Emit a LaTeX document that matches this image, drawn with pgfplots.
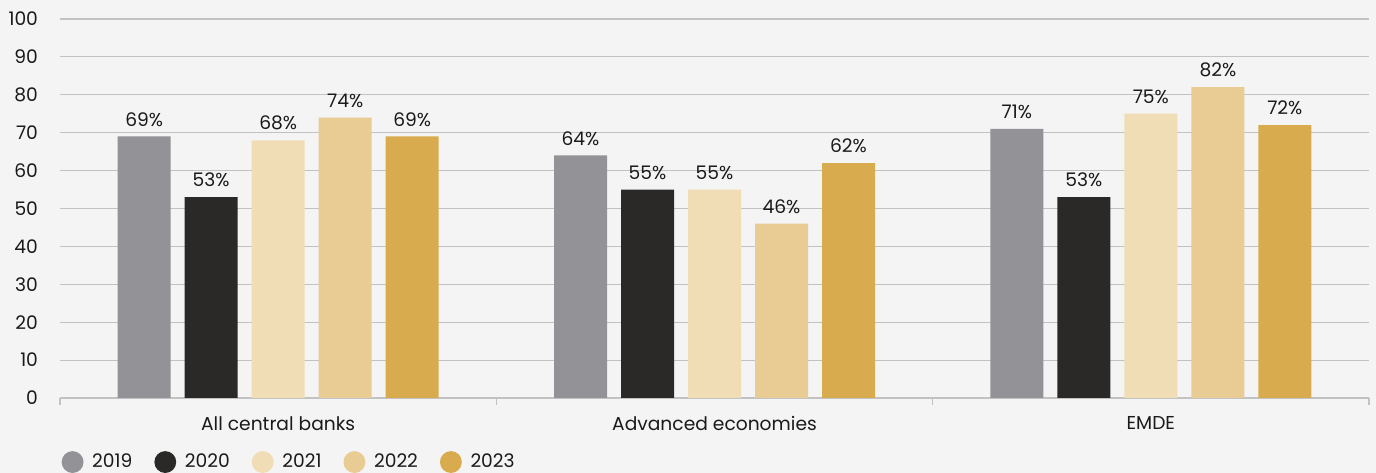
\documentclass[border=0pt]{standalone}
\usepackage{fontspec}
\setmainfont{Poppins}
\usepackage{pgfplots}
\pgfplotsset{compat=1.18}
\definecolor{bg}{HTML}{F4F4F4}
\definecolor{gridc}{HTML}{C2C2C2}
\definecolor{cA}{HTML}{939296}
\definecolor{cB}{HTML}{2A2928}
\definecolor{cC}{HTML}{F0DDB6}
\definecolor{cD}{HTML}{E8CC94}
\definecolor{cE}{HTML}{D8AC4E}
\definecolor{txt}{HTML}{1A1A1A}
\begin{document}
\begin{tikzpicture}[font=\fontsize{14}{16}\selectfont]
\useasboundingbox (-45pt,-56.25pt) rectangle (987pt,298.5pt);
\fill[bg] (-45pt,-56.25pt) rectangle (987pt,298.5pt);
\begin{axis}[
  at={(0,0)}, anchor=south west,
  scale only axis, width=981.75pt, height=284.25pt,
  xmin=-0.5, xmax=2.5, ymin=0, ymax=100,
  ybar, bar width=39.75pt,
  xtick={0,1,2},
  xticklabels={All central banks, Advanced economies, EMDE},
  x tick style={draw=none},
  xticklabel style={yshift=-6pt, text=txt},
  extra x ticks={-0.5,0.5,1.5,2.5},
  extra x tick labels={},
  extra x tick style={x tick style={draw=gridc, line width=0.8pt}, major tick length=5pt, tick align=outside},
  ytick={0,10,...,100},
  y tick style={draw=none},
  yticklabel style={xshift=-13pt, text=txt},
  /pgf/number format/assume math mode=true,
  ymajorgrids, grid style={gridc, line width=0.8pt},
  axis x line*=bottom, axis y line*=left,
  x axis line style={gridc, line width=0.8pt, -},
  y axis line style={draw=none},
  nodes near coords={\pgfmathprintnumber{\pgfplotspointmeta}\%},
  every node near coord/.append style={text=txt, yshift=4pt},
  legend columns=5,
  legend style={draw=none, fill=none, at={(axis description cs:-0.002,-0.169)}, anchor=west,
    /tikz/every odd column/.append style={column sep=4.5pt},
    /tikz/every even column/.append style={column sep=14.5pt}, text=txt},
  legend image code/.code={\fill[#1] (3pt,0) circle (8.2pt);},
]
\addplot[fill=cA, draw=none, bar shift=-100.5pt] coordinates {(0,69) (1,64) (2,71)};
\addplot[fill=cB, draw=none, bar shift=-50.25pt] coordinates {(0,53) (1,55) (2,53)};
\addplot[fill=cC, draw=none, bar shift=0pt] coordinates {(0,68) (1,55) (2,75)};
\addplot[fill=cD, draw=none, bar shift=50.25pt] coordinates {(0,74) (1,46) (2,82)};
\addplot[fill=cE, draw=none, bar shift=100.5pt] coordinates {(0,69) (1,62) (2,72)};
\legend{2019,2020,2021,2022,2023}
\end{axis}
\end{tikzpicture}
\end{document}
